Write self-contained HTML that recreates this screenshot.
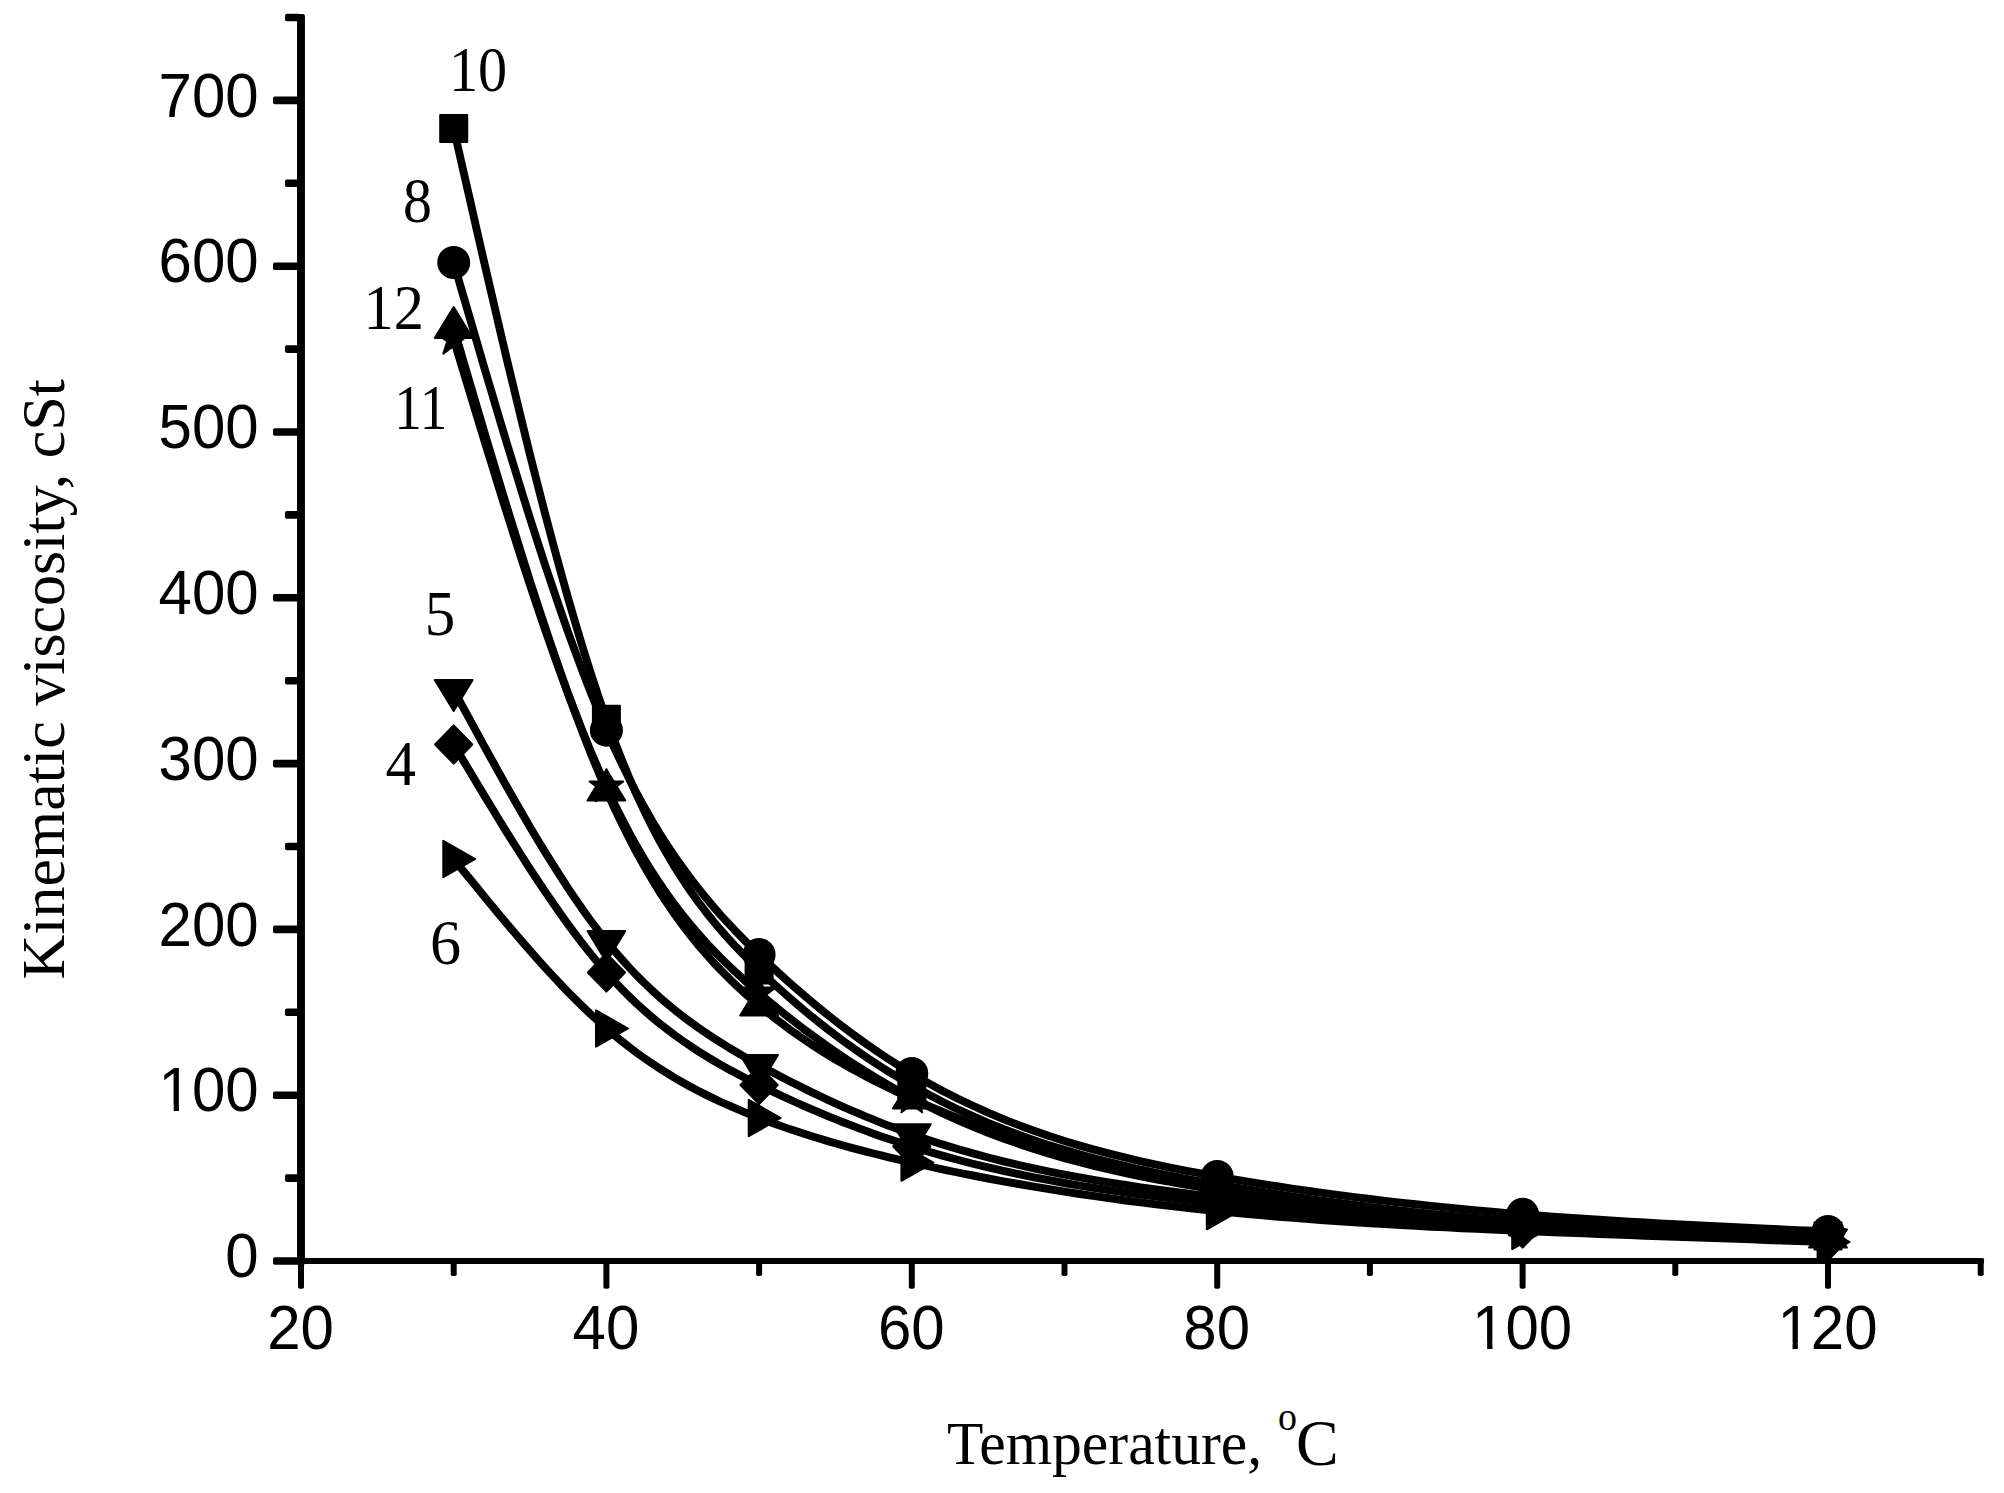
<!DOCTYPE html>
<html lang="en"><head><meta charset="utf-8"><title>Kinematic viscosity vs temperature</title>
<style>html,body{margin:0;padding:0;background:#fff;overflow:hidden}svg{display:block}.sans{font-family:"Liberation Sans",Arial,sans-serif;font-size:60px}.serif{font-family:"Liberation Serif","Times New Roman",serif;font-size:62px}.lab{font-family:"Liberation Serif","Times New Roman",serif;font-size:61px}</style></head><body>
<svg width="2004" height="1493" viewBox="0 0 2004 1493">
<rect width="2004" height="1493" fill="#fff"/>
<g fill="#000" stroke="none">
<rect x="297.05" y="14" width="7.9" height="1251" rx="2"/>
<rect x="297.05" y="1258.1" width="1687" height="5.8" rx="1.5"/>
<rect x="273" y="1257.2" width="27" height="7.6" rx="1.8"/>
<rect x="285" y="1174.3" width="15" height="7.6" rx="1.8"/>
<rect x="273" y="1091.4" width="27" height="7.6" rx="1.8"/>
<rect x="285" y="1008.5" width="15" height="7.6" rx="1.8"/>
<rect x="273" y="925.6" width="27" height="7.6" rx="1.8"/>
<rect x="285" y="842.7" width="15" height="7.6" rx="1.8"/>
<rect x="273" y="759.8" width="27" height="7.6" rx="1.8"/>
<rect x="285" y="676.9" width="15" height="7.6" rx="1.8"/>
<rect x="273" y="594" width="27" height="7.6" rx="1.8"/>
<rect x="285" y="511.1" width="15" height="7.6" rx="1.8"/>
<rect x="273" y="428.2" width="27" height="7.6" rx="1.8"/>
<rect x="285" y="345.3" width="15" height="7.6" rx="1.8"/>
<rect x="273" y="262.4" width="27" height="7.6" rx="1.8"/>
<rect x="285" y="179.5" width="15" height="7.6" rx="1.8"/>
<rect x="273" y="96.6" width="27" height="7.6" rx="1.8"/>
<rect x="285" y="13.7" width="15" height="7.6" rx="1.8"/>
<rect x="298" y="1261" width="6" height="27.7" rx="1.8"/>
<rect x="450.7" y="1261" width="6" height="15" rx="1.8"/>
<rect x="603.4" y="1261" width="6" height="27.7" rx="1.8"/>
<rect x="756.1" y="1261" width="6" height="15" rx="1.8"/>
<rect x="908.8" y="1261" width="6" height="27.7" rx="1.8"/>
<rect x="1061.5" y="1261" width="6" height="15" rx="1.8"/>
<rect x="1214.2" y="1261" width="6" height="27.7" rx="1.8"/>
<rect x="1366.9" y="1261" width="6" height="15" rx="1.8"/>
<rect x="1519.6" y="1261" width="6" height="27.7" rx="1.8"/>
<rect x="1672.3" y="1261" width="6" height="15" rx="1.8"/>
<rect x="1825" y="1261" width="6" height="27.7" rx="1.8"/>
<rect x="1977.7" y="1261" width="6" height="15" rx="1.8"/>
</g>
<g class="sans" fill="#000" text-anchor="end">
<text transform="translate(258.7 1277.2) scale(1 1.055)">0</text>
<text transform="translate(258.7 1111.4) scale(1 1.055)">100</text>
<text transform="translate(258.7 945.6) scale(1 1.055)">200</text>
<text transform="translate(258.7 779.8) scale(1 1.055)">300</text>
<text transform="translate(258.7 614) scale(1 1.055)">400</text>
<text transform="translate(258.7 448.2) scale(1 1.055)">500</text>
<text transform="translate(258.7 282.4) scale(1 1.055)">600</text>
<text transform="translate(258.7 116.6) scale(1 1.055)">700</text>
</g>
<g class="sans" fill="#000" text-anchor="middle">
<text transform="translate(300.5 1349.3) scale(1 1.055)">20</text>
<text transform="translate(605.9 1349.3) scale(1 1.055)">40</text>
<text transform="translate(911.3 1349.3) scale(1 1.055)">60</text>
<text transform="translate(1216.7 1349.3) scale(1 1.055)">80</text>
<text transform="translate(1522.1 1349.3) scale(1 1.055)">100</text>
<text transform="translate(1827.5 1349.3) scale(1 1.055)">120</text>
</g>
<rect x="162.19" y="1104.9" width="11.5" height="8" fill="#fff"/><rect x="178.99" y="1104.9" width="11" height="8" fill="#fff"/>
<rect x="1475.65" y="1342.8" width="11.5" height="8" fill="#fff"/><rect x="1492.45" y="1342.8" width="11" height="8" fill="#fff"/>
<rect x="1781.05" y="1342.8" width="11.5" height="8" fill="#fff"/><rect x="1797.85" y="1342.8" width="11" height="8" fill="#fff"/>
<g class="serif" fill="#000">
<text transform="translate(947 1464) scale(1 1.04)" font-size="59.6">Temperature, <tspan x="331" dy="-33.1" font-size="38">o</tspan><tspan x="349" dy="33.75" font-size="64">C</tspan></text>
<text transform="translate(64.3 979.5) rotate(-90)">Kinematic viscosity, cSt</text>
</g>
<g stroke="#000" fill="none" stroke-width="7.9" stroke-linejoin="round" stroke-linecap="butt">
<path d="M453.7 128.4 L461.3 162 L469 195.6 L476.6 229.1 L484.2 262.4 L491.9 295.4 L499.5 328.1 L507.1 360.5 L514.8 392.4 L522.4 423.8 L530 454.7 L537.7 485 L545.3 514.5 L553 543.4 L560.6 571.4 L568.2 598.6 L575.9 624.8 L583.5 650.1 L591.1 674.3 L598.8 697.4 L606.4 719.3 L614 740 L621.7 759.5 L629.3 777.9 L636.9 795.3 L644.6 811.6 L652.2 826.9 L659.8 841.3 L667.5 854.9 L675.1 867.7 L682.8 879.7 L690.4 891 L698 901.6 L705.7 911.7 L713.3 921.2 L720.9 930.2 L728.6 938.8 L736.2 947.1 L743.8 955 L751.5 962.6 L759.1 970 L766.7 977.2 L774.4 984.3 L782 991.2 L789.6 997.9 L797.3 1004.5 L804.9 1010.9 L812.5 1017.2 L820.2 1023.3 L827.8 1029.3 L835.4 1035.1 L843.1 1040.8 L850.7 1046.3 L858.4 1051.7 L866 1056.9 L873.6 1062 L881.3 1067 L888.9 1071.8 L896.5 1076.4 L904.2 1081 L911.8 1085.4 L927.1 1093.8 L942.3 1101.8 L957.6 1109.2 L972.9 1116.2 L988.1 1122.8 L1003.4 1129 L1018.7 1134.7 L1034 1140.1 L1049.2 1145.2 L1064.5 1149.9 L1079.8 1154.4 L1095 1158.5 L1110.3 1162.4 L1125.6 1166.1 L1140.8 1169.5 L1156.1 1172.8 L1171.4 1175.9 L1186.7 1178.8 L1201.9 1181.6 L1217.2 1184.3 L1232.5 1186.9 L1247.7 1189.5 L1263 1191.9 L1278.3 1194.3 L1293.5 1196.6 L1308.8 1198.8 L1324.1 1200.9 L1339.4 1203 L1354.6 1205 L1369.9 1206.9 L1385.2 1208.7 L1400.4 1210.5 L1415.7 1212.2 L1431 1213.8 L1446.2 1215.4 L1461.5 1216.8 L1476.8 1218.2 L1492.1 1219.6 L1507.3 1220.8 L1522.6 1222 L1537.9 1223.1 L1553.1 1224.2 L1568.4 1225.2 L1583.7 1226.1 L1599 1227 L1614.2 1227.8 L1629.5 1228.6 L1644.8 1229.3 L1660 1230 L1675.3 1230.7 L1690.6 1231.3 L1705.8 1231.9 L1721.1 1232.5 L1736.4 1233 L1751.6 1233.6 L1766.9 1234.1 L1782.2 1234.6 L1797.5 1235.1 L1812.7 1235.5 L1828 1236"/>
<path d="M453.7 262.5 L461.3 288.8 L469 315.1 L476.6 341.2 L484.2 367.3 L491.9 393.1 L499.5 418.8 L507.1 444.1 L514.8 469.2 L522.4 493.9 L530 518.3 L537.7 542.2 L545.3 565.6 L553 588.4 L560.6 610.8 L568.2 632.5 L575.9 653.5 L583.5 673.8 L591.1 693.4 L598.8 712.2 L606.4 730.2 L614 747.3 L621.7 763.6 L629.3 779 L636.9 793.7 L644.6 807.7 L652.2 821 L659.8 833.6 L667.5 845.6 L675.1 857 L682.8 867.9 L690.4 878.2 L698 888.1 L705.7 897.6 L713.3 906.6 L720.9 915.3 L728.6 923.7 L736.2 931.7 L743.8 939.6 L751.5 947.2 L759.1 954.6 L766.7 961.9 L774.4 969 L782 976 L789.6 982.9 L797.3 989.6 L804.9 996.1 L812.5 1002.6 L820.2 1008.9 L827.8 1015 L835.4 1021 L843.1 1026.9 L850.7 1032.6 L858.4 1038.2 L866 1043.7 L873.6 1049 L881.3 1054.2 L888.9 1059.2 L896.5 1064.1 L904.2 1068.9 L911.8 1073.5 L927.1 1082.3 L942.3 1090.7 L957.6 1098.5 L972.9 1105.8 L988.1 1112.7 L1003.4 1119.1 L1018.7 1125.2 L1034 1130.8 L1049.2 1136.1 L1064.5 1141 L1079.8 1145.6 L1095 1149.9 L1110.3 1153.9 L1125.6 1157.7 L1140.8 1161.3 L1156.1 1164.6 L1171.4 1167.8 L1186.7 1170.8 L1201.9 1173.7 L1217.2 1176.4 L1232.5 1179.1 L1247.7 1181.6 L1263 1184.1 L1278.3 1186.5 L1293.5 1188.8 L1308.8 1191 L1324.1 1193.1 L1339.4 1195.2 L1354.6 1197.1 L1369.9 1199 L1385.2 1200.9 L1400.4 1202.6 L1415.7 1204.3 L1431 1205.9 L1446.2 1207.5 L1461.5 1209 L1476.8 1210.4 L1492.1 1211.7 L1507.3 1213.1 L1522.6 1214.3 L1537.9 1215.5 L1553.1 1216.6 L1568.4 1217.7 L1583.7 1218.8 L1599 1219.8 L1614.2 1220.7 L1629.5 1221.7 L1644.8 1222.5 L1660 1223.4 L1675.3 1224.2 L1690.6 1225 L1705.8 1225.8 L1721.1 1226.5 L1736.4 1227.3 L1751.6 1228 L1766.9 1228.7 L1782.2 1229.4 L1797.5 1230.1 L1812.7 1230.7 L1828 1231.4"/>
<path d="M453.7 328 L461.3 354 L469 380 L476.6 405.9 L484.2 431.7 L491.9 457.3 L499.5 482.6 L507.1 507.7 L514.8 532.5 L522.4 557 L530 581.1 L537.7 604.7 L545.3 627.8 L553 650.5 L560.6 672.5 L568.2 694 L575.9 714.7 L583.5 734.8 L591.1 754.2 L598.8 772.8 L606.4 790.5 L614 807.4 L621.7 823.4 L629.3 838.6 L636.9 853.1 L644.6 866.8 L652.2 879.8 L659.8 892.2 L667.5 903.8 L675.1 914.9 L682.8 925.4 L690.4 935.3 L698 944.8 L705.7 953.7 L713.3 962.2 L720.9 970.3 L728.6 978 L736.2 985.3 L743.8 992.4 L751.5 999.1 L759.1 1005.6 L766.7 1011.9 L774.4 1017.9 L782 1023.7 L789.6 1029.4 L797.3 1034.8 L804.9 1040.1 L812.5 1045.2 L820.2 1050.1 L827.8 1054.9 L835.4 1059.5 L843.1 1063.9 L850.7 1068.2 L858.4 1072.4 L866 1076.5 L873.6 1080.4 L881.3 1084.2 L888.9 1088 L896.5 1091.6 L904.2 1095.1 L911.8 1098.6 L927.1 1105.3 L942.3 1111.7 L957.6 1117.9 L972.9 1123.7 L988.1 1129.3 L1003.4 1134.7 L1018.7 1139.8 L1034 1144.7 L1049.2 1149.4 L1064.5 1153.8 L1079.8 1158 L1095 1162 L1110.3 1165.9 L1125.6 1169.5 L1140.8 1173 L1156.1 1176.3 L1171.4 1179.5 L1186.7 1182.5 L1201.9 1185.3 L1217.2 1188 L1232.5 1190.6 L1247.7 1193.1 L1263 1195.5 L1278.3 1197.7 L1293.5 1199.9 L1308.8 1201.9 L1324.1 1203.9 L1339.4 1205.7 L1354.6 1207.4 L1369.9 1209.1 L1385.2 1210.7 L1400.4 1212.2 L1415.7 1213.6 L1431 1215 L1446.2 1216.3 L1461.5 1217.6 L1476.8 1218.8 L1492.1 1219.9 L1507.3 1221 L1522.6 1222 L1537.9 1223 L1553.1 1224 L1568.4 1225 L1583.7 1225.9 L1599 1226.8 L1614.2 1227.6 L1629.5 1228.4 L1644.8 1229.2 L1660 1230 L1675.3 1230.8 L1690.6 1231.5 L1705.8 1232.2 L1721.1 1232.9 L1736.4 1233.6 L1751.6 1234.3 L1766.9 1235 L1782.2 1235.6 L1797.5 1236.3 L1812.7 1236.9 L1828 1237.6"/>
<path d="M453.7 339.3 L461.3 364.6 L469 389.8 L476.6 415 L484.2 440 L491.9 464.9 L499.5 489.5 L507.1 513.9 L514.8 538 L522.4 561.7 L530 585 L537.7 607.9 L545.3 630.3 L553 652.2 L560.6 673.5 L568.2 694.2 L575.9 714.2 L583.5 733.6 L591.1 752.2 L598.8 770 L606.4 787 L614 803.1 L621.7 818.4 L629.3 832.9 L636.9 846.6 L644.6 859.7 L652.2 872 L659.8 883.6 L667.5 894.7 L675.1 905.2 L682.8 915.1 L690.4 924.5 L698 933.5 L705.7 942.1 L713.3 950.2 L720.9 958 L728.6 965.5 L736.2 972.7 L743.8 979.7 L751.5 986.4 L759.1 993 L766.7 999.5 L774.4 1005.8 L782 1012 L789.6 1018 L797.3 1024 L804.9 1029.8 L812.5 1035.4 L820.2 1041 L827.8 1046.4 L835.4 1051.7 L843.1 1056.9 L850.7 1062 L858.4 1066.9 L866 1071.7 L873.6 1076.4 L881.3 1080.9 L888.9 1085.4 L896.5 1089.7 L904.2 1093.9 L911.8 1098 L927.1 1105.8 L942.3 1113.2 L957.6 1120.1 L972.9 1126.6 L988.1 1132.8 L1003.4 1138.5 L1018.7 1143.9 L1034 1148.9 L1049.2 1153.7 L1064.5 1158.1 L1079.8 1162.2 L1095 1166.1 L1110.3 1169.7 L1125.6 1173.1 L1140.8 1176.3 L1156.1 1179.3 L1171.4 1182.1 L1186.7 1184.8 L1201.9 1187.3 L1217.2 1189.7 L1232.5 1192 L1247.7 1194.2 L1263 1196.4 L1278.3 1198.4 L1293.5 1200.4 L1308.8 1202.3 L1324.1 1204.1 L1339.4 1205.8 L1354.6 1207.4 L1369.9 1209 L1385.2 1210.5 L1400.4 1211.9 L1415.7 1213.3 L1431 1214.6 L1446.2 1215.8 L1461.5 1217 L1476.8 1218.1 L1492.1 1219.2 L1507.3 1220.2 L1522.6 1221.2 L1537.9 1222.1 L1553.1 1223 L1568.4 1223.9 L1583.7 1224.7 L1599 1225.5 L1614.2 1226.3 L1629.5 1227 L1644.8 1227.7 L1660 1228.4 L1675.3 1229 L1690.6 1229.6 L1705.8 1230.2 L1721.1 1230.8 L1736.4 1231.4 L1751.6 1231.9 L1766.9 1232.5 L1782.2 1233 L1797.5 1233.5 L1812.7 1234.1 L1828 1234.6"/>
<path d="M453.7 690 L461.3 704.1 L469 718.1 L476.6 732.2 L484.2 746.1 L491.9 760 L499.5 773.7 L507.1 787.3 L514.8 800.7 L522.4 814 L530 827 L537.7 839.9 L545.3 852.4 L553 864.7 L560.6 876.7 L568.2 888.4 L575.9 899.7 L583.5 910.7 L591.1 921.2 L598.8 931.4 L606.4 941.1 L614 950.4 L621.7 959.2 L629.3 967.6 L636.9 975.6 L644.6 983.2 L652.2 990.5 L659.8 997.4 L667.5 1004 L675.1 1010.3 L682.8 1016.3 L690.4 1022 L698 1027.5 L705.7 1032.8 L713.3 1037.9 L720.9 1042.7 L728.6 1047.5 L736.2 1052 L743.8 1056.4 L751.5 1060.8 L759.1 1065 L766.7 1069.2 L774.4 1073.2 L782 1077.3 L789.6 1081.2 L797.3 1085.1 L804.9 1088.9 L812.5 1092.6 L820.2 1096.3 L827.8 1099.8 L835.4 1103.3 L843.1 1106.8 L850.7 1110.1 L858.4 1113.4 L866 1116.6 L873.6 1119.7 L881.3 1122.8 L888.9 1125.8 L896.5 1128.6 L904.2 1131.5 L911.8 1134.2 L927.1 1139.4 L942.3 1144.4 L957.6 1149 L972.9 1153.4 L988.1 1157.5 L1003.4 1161.4 L1018.7 1165 L1034 1168.4 L1049.2 1171.6 L1064.5 1174.6 L1079.8 1177.4 L1095 1180.1 L1110.3 1182.6 L1125.6 1185 L1140.8 1187.3 L1156.1 1189.4 L1171.4 1191.5 L1186.7 1193.4 L1201.9 1195.3 L1217.2 1197.2 L1232.5 1199 L1247.7 1200.7 L1263 1202.5 L1278.3 1204.1 L1293.5 1205.8 L1308.8 1207.4 L1324.1 1208.9 L1339.4 1210.4 L1354.6 1211.9 L1369.9 1213.3 L1385.2 1214.7 L1400.4 1216.1 L1415.7 1217.4 L1431 1218.7 L1446.2 1219.9 L1461.5 1221.1 L1476.8 1222.2 L1492.1 1223.3 L1507.3 1224.3 L1522.6 1225.4 L1537.9 1226.3 L1553.1 1227.2 L1568.4 1228.1 L1583.7 1229 L1599 1229.8 L1614.2 1230.6 L1629.5 1231.4 L1644.8 1232.1 L1660 1232.8 L1675.3 1233.5 L1690.6 1234.1 L1705.8 1234.8 L1721.1 1235.4 L1736.4 1236 L1751.6 1236.6 L1766.9 1237.2 L1782.2 1237.7 L1797.5 1238.3 L1812.7 1238.9 L1828 1239.4"/>
<path d="M453.7 744.5 L461.3 757.3 L469 770 L476.6 782.8 L484.2 795.4 L491.9 808 L499.5 820.5 L507.1 832.8 L514.8 845 L522.4 857 L530 868.9 L537.7 880.5 L545.3 891.9 L553 903.1 L560.6 914 L568.2 924.6 L575.9 934.9 L583.5 944.8 L591.1 954.4 L598.8 963.7 L606.4 972.5 L614 980.9 L621.7 989 L629.3 996.6 L636.9 1003.9 L644.6 1010.8 L652.2 1017.4 L659.8 1023.7 L667.5 1029.7 L675.1 1035.4 L682.8 1040.9 L690.4 1046.1 L698 1051.1 L705.7 1055.9 L713.3 1060.5 L720.9 1064.9 L728.6 1069.2 L736.2 1073.3 L743.8 1077.3 L751.5 1081.2 L759.1 1085 L766.7 1088.7 L774.4 1092.4 L782 1096 L789.6 1099.5 L797.3 1103 L804.9 1106.3 L812.5 1109.7 L820.2 1112.9 L827.8 1116.1 L835.4 1119.2 L843.1 1122.2 L850.7 1125.2 L858.4 1128.1 L866 1130.9 L873.6 1133.7 L881.3 1136.4 L888.9 1139 L896.5 1141.6 L904.2 1144.1 L911.8 1146.5 L927.1 1151.2 L942.3 1155.6 L957.6 1159.7 L972.9 1163.7 L988.1 1167.4 L1003.4 1170.9 L1018.7 1174.2 L1034 1177.3 L1049.2 1180.2 L1064.5 1183 L1079.8 1185.6 L1095 1188 L1110.3 1190.4 L1125.6 1192.6 L1140.8 1194.7 L1156.1 1196.6 L1171.4 1198.5 L1186.7 1200.4 L1201.9 1202.1 L1217.2 1203.8 L1232.5 1205.4 L1247.7 1207 L1263 1208.6 L1278.3 1210.1 L1293.5 1211.5 L1308.8 1212.9 L1324.1 1214.3 L1339.4 1215.6 L1354.6 1216.9 L1369.9 1218.2 L1385.2 1219.4 L1400.4 1220.5 L1415.7 1221.7 L1431 1222.8 L1446.2 1223.8 L1461.5 1224.8 L1476.8 1225.8 L1492.1 1226.7 L1507.3 1227.6 L1522.6 1228.5 L1537.9 1229.3 L1553.1 1230.1 L1568.4 1230.9 L1583.7 1231.7 L1599 1232.4 L1614.2 1233.1 L1629.5 1233.7 L1644.8 1234.4 L1660 1235 L1675.3 1235.6 L1690.6 1236.2 L1705.8 1236.8 L1721.1 1237.4 L1736.4 1237.9 L1751.6 1238.5 L1766.9 1239 L1782.2 1239.5 L1797.5 1240.1 L1812.7 1240.6 L1828 1241.1"/>
<path d="M453.7 859 L461.3 868.4 L469 877.8 L476.6 887.1 L484.2 896.4 L491.9 905.7 L499.5 914.9 L507.1 924 L514.8 933 L522.4 941.9 L530 950.7 L537.7 959.3 L545.3 967.8 L553 976.1 L560.6 984.2 L568.2 992.2 L575.9 999.9 L583.5 1007.4 L591.1 1014.7 L598.8 1021.7 L606.4 1028.5 L614 1035 L621.7 1041.2 L629.3 1047.2 L636.9 1052.9 L644.6 1058.4 L652.2 1063.6 L659.8 1068.6 L667.5 1073.4 L675.1 1078.1 L682.8 1082.5 L690.4 1086.7 L698 1090.8 L705.7 1094.6 L713.3 1098.4 L720.9 1102 L728.6 1105.4 L736.2 1108.7 L743.8 1111.9 L751.5 1115 L759.1 1118 L766.7 1120.9 L774.4 1123.7 L782 1126.4 L789.6 1129.1 L797.3 1131.6 L804.9 1134.1 L812.5 1136.5 L820.2 1138.8 L827.8 1141.1 L835.4 1143.3 L843.1 1145.5 L850.7 1147.6 L858.4 1149.6 L866 1151.6 L873.6 1153.5 L881.3 1155.4 L888.9 1157.3 L896.5 1159.1 L904.2 1160.9 L911.8 1162.6 L927.1 1166 L942.3 1169.3 L957.6 1172.5 L972.9 1175.5 L988.1 1178.5 L1003.4 1181.3 L1018.7 1184 L1034 1186.7 L1049.2 1189.2 L1064.5 1191.7 L1079.8 1194 L1095 1196.2 L1110.3 1198.4 L1125.6 1200.5 L1140.8 1202.4 L1156.1 1204.3 L1171.4 1206.1 L1186.7 1207.9 L1201.9 1209.5 L1217.2 1211.1 L1232.5 1212.6 L1247.7 1214 L1263 1215.4 L1278.3 1216.7 L1293.5 1217.9 L1308.8 1219.1 L1324.1 1220.2 L1339.4 1221.2 L1354.6 1222.3 L1369.9 1223.2 L1385.2 1224.1 L1400.4 1225 L1415.7 1225.8 L1431 1226.7 L1446.2 1227.4 L1461.5 1228.2 L1476.8 1228.9 L1492.1 1229.6 L1507.3 1230.2 L1522.6 1230.9 L1537.9 1231.5 L1553.1 1232.2 L1568.4 1232.8 L1583.7 1233.4 L1599 1234 L1614.2 1234.6 L1629.5 1235.1 L1644.8 1235.7 L1660 1236.3 L1675.3 1236.8 L1690.6 1237.3 L1705.8 1237.9 L1721.1 1238.4 L1736.4 1238.9 L1751.6 1239.4 L1766.9 1240 L1782.2 1240.5 L1797.5 1241 L1812.7 1241.5 L1828 1242"/>
</g>
<g fill="#000" stroke="#000" stroke-width="2" stroke-linejoin="round">
<rect x="440.2" y="114.9" width="27" height="27"/>
<rect x="592.9" y="705.8" width="27" height="27"/>
<rect x="745.6" y="956.5" width="27" height="27"/>
<rect x="898.3" y="1071.9" width="27" height="27"/>
<rect x="1203.7" y="1170.8" width="27" height="27"/>
<rect x="1509.1" y="1208.5" width="27" height="27"/>
<rect x="1814.5" y="1222.5" width="27" height="27"/>
<circle cx="453.7" cy="262.5" r="15.5"/>
<circle cx="606.4" cy="730.2" r="15.5"/>
<circle cx="759.1" cy="954.6" r="15.5"/>
<circle cx="911.8" cy="1073.5" r="15.5"/>
<circle cx="1217.2" cy="1176.4" r="15.5"/>
<circle cx="1522.6" cy="1214.3" r="15.5"/>
<circle cx="1828" cy="1231.4" r="15.5"/>
<polygon points="453.7,307 472.6,338 434.8,338"/>
<polygon points="606.4,769.5 625.3,800.5 587.5,800.5"/>
<polygon points="759.1,984.6 778,1015.6 740.2,1015.6"/>
<polygon points="911.8,1077.6 930.7,1108.6 892.9,1108.6"/>
<polygon points="1217.2,1167.1 1236.1,1198 1198.3,1198"/>
<polygon points="1522.6,1201.1 1541.5,1232 1503.7,1232"/>
<polygon points="1828,1216.6 1846.9,1247.6 1809.1,1247.6"/>
<polygon points="453.7,321.6 457.7,333.8 470.5,333.8 460.1,341.4 464.1,353.6 453.7,346 443.3,353.6 447.3,341.4 436.9,333.8 449.7,333.8"/>
<polygon points="606.4,769.3 610.4,781.5 623.2,781.5 612.8,789.1 616.8,801.3 606.4,793.7 596,801.3 600,789.1 589.6,781.5 602.4,781.5"/>
<polygon points="759.1,975.3 763.1,987.5 775.9,987.5 765.5,995.1 769.5,1007.3 759.1,999.7 748.7,1007.3 752.7,995.1 742.3,987.5 755.1,987.5"/>
<polygon points="911.8,1080.3 915.8,1092.5 928.6,1092.5 918.2,1100.1 922.2,1112.3 911.8,1104.7 901.4,1112.3 905.4,1100.1 895,1092.5 907.8,1092.5"/>
<polygon points="1217.2,1172 1221.2,1184.2 1234,1184.2 1223.6,1191.8 1227.6,1204 1217.2,1196.5 1206.8,1204 1210.8,1191.8 1200.4,1184.2 1213.2,1184.2"/>
<polygon points="1522.6,1203.5 1526.6,1215.7 1539.4,1215.7 1529,1223.3 1533,1235.5 1522.6,1228 1512.2,1235.5 1516.2,1223.3 1505.8,1215.7 1518.6,1215.7"/>
<polygon points="1828,1216.9 1832,1229.1 1844.8,1229.1 1834.4,1236.7 1838.4,1248.9 1828,1241.3 1817.6,1248.9 1821.6,1236.7 1811.2,1229.1 1824,1229.1"/>
<polygon points="453.7,711 472.6,680 434.8,680"/>
<polygon points="606.4,962.1 625.3,931.1 587.5,931.1"/>
<polygon points="759.1,1086 778,1055 740.2,1055"/>
<polygon points="911.8,1155.2 930.7,1124.2 892.9,1124.2"/>
<polygon points="1217.2,1218.1 1236.1,1187.2 1198.3,1187.2"/>
<polygon points="1522.6,1246.3 1541.5,1215.4 1503.7,1215.4"/>
<polygon points="1828,1260.4 1846.9,1229.4 1809.1,1229.4"/>
<polygon points="453.7,725.4 472.3,744.5 453.7,763.6 435.1,744.5"/>
<polygon points="606.4,953.4 625,972.5 606.4,991.6 587.8,972.5"/>
<polygon points="759.1,1065.9 777.7,1085 759.1,1104.1 740.5,1085"/>
<polygon points="911.8,1127.4 930.4,1146.5 911.8,1165.6 893.2,1146.5"/>
<polygon points="1217.2,1184.7 1235.8,1203.8 1217.2,1222.9 1198.6,1203.8"/>
<polygon points="1522.6,1209.4 1541.2,1228.5 1522.6,1247.6 1504,1228.5"/>
<polygon points="1828,1222 1846.6,1241.1 1828,1260.2 1809.4,1241.1"/>
<polygon points="475.3,859 443.3,840.8 443.3,877.2"/>
<polygon points="628,1028.5 596,1010.3 596,1046.7"/>
<polygon points="780.7,1118 748.7,1099.8 748.7,1136.2"/>
<polygon points="933.4,1162.6 901.4,1144.4 901.4,1180.8"/>
<polygon points="1238.8,1211.1 1206.8,1192.9 1206.8,1229.3"/>
<polygon points="1544.2,1230.9 1512.2,1212.7 1512.2,1249.1"/>
<polygon points="1849.6,1242 1817.6,1223.8 1817.6,1260.2"/>
</g>
<g class="lab" fill="#000">
<text transform="translate(448.9 91.2) scale(0.955 1.045)">10</text>
<text transform="translate(402.9 221.5) scale(0.95 1.045)">8</text>
<text transform="translate(363.6 329.1) scale(0.99 1.045)">12</text>
<text transform="translate(394.3 429.2) scale(0.905 1.045)">11</text>
<text transform="translate(424.7 634.9) scale(1 1.045)">5</text>
<text transform="translate(385.6 785) scale(1 1.045)">4</text>
<text transform="translate(430 963.6) scale(1.02 1.045)">6</text>
</g>
</svg></body></html>
